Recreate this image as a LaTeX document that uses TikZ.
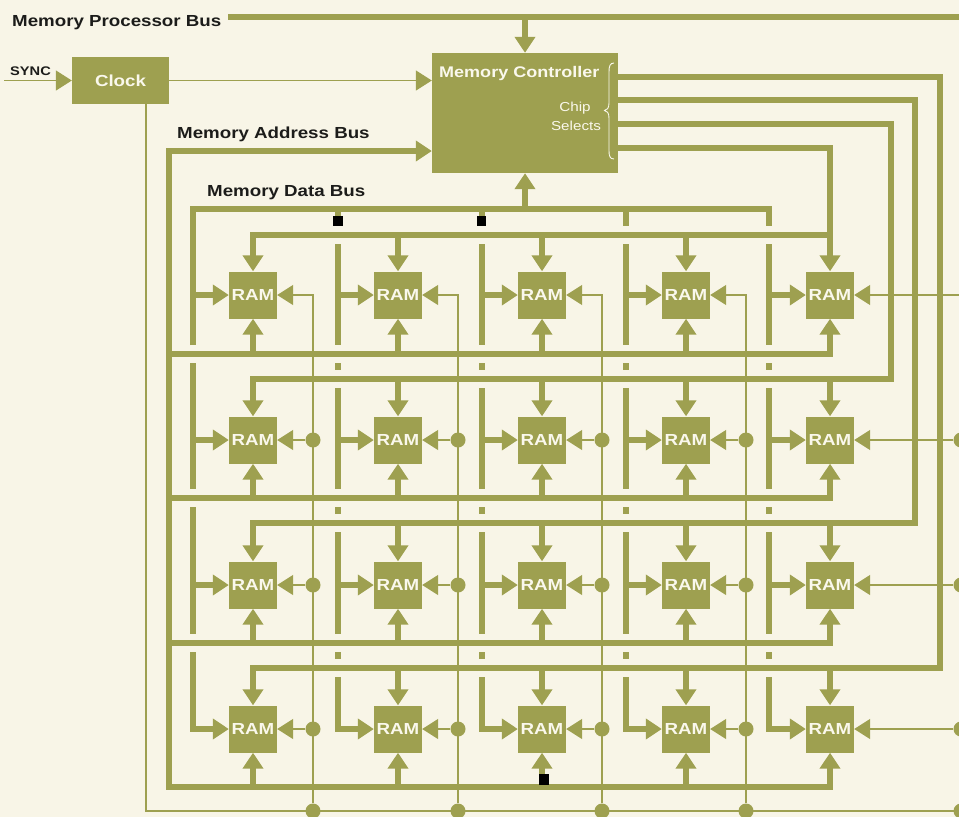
\documentclass[tikz,border=0pt]{standalone}
\usepackage{fontspec}
\newfontfamily\labfont[FakeStretch=1.17]{Liberation Sans}
\usetikzlibrary{arrows.meta}
\definecolor{busgreen}{RGB}{158,160,80}
\definecolor{paper}{RGB}{248,245,231}
\definecolor{ink}{RGB}{28,28,26}
\definecolor{wtext}{RGB}{250,248,236}
\begin{document}
\begin{tikzpicture}[x=1pt,y=-1pt,
  bus/.style={draw=busgreen,line width=6.5pt},
  thinline/.style={draw=busgreen,line width=1.4pt},
  tip/.style={-{Triangle[length=16pt,width=20pt]}},
  tips/.style={{Triangle[length=16pt,width=20pt]}-{Triangle[length=16pt,width=20pt]}},
  box/.style={fill=busgreen,inner sep=0pt,text=wtext,font=\labfont\bfseries\fontsize{16}{16}\selectfont},
  ram/.style={box,minimum width=48pt,minimum height=47pt},
  lab/.style={text=ink,font=\labfont\bfseries\fontsize{16}{16}\selectfont,inner sep=0pt,anchor=base west},
  wlab/.style={text=wtext,font=\labfont\bfseries\fontsize{15.4}{15.4}\selectfont,inner sep=0pt,anchor=base west},
  slab/.style={text=wtext,font=\labfont\fontsize{13}{13}\selectfont,inner sep=0pt,anchor=base},
  dot/.style={circle,fill=busgreen,minimum size=15pt,inner sep=0pt},
]
\useasboundingbox (0,0) rectangle (959,817);
\fill[paper] (0,0) rectangle (959,817);
\clip (0,0) rectangle (959,817);

% ---------- blocks ----------
\node[box,minimum width=186pt,minimum height=120pt] (mc) at (525,113) {};
\node[box,minimum width=97pt,minimum height=47pt] (clk) at (120.5,80.5) {Clock};
\foreach \rr/\yy in {1/295,2/440,3/585,4/729}
  \foreach \cc/\xx in {1/253,2/398,3/542,4/686,5/830}
    \node[ram] (r\rr c\cc) at (\xx,\yy) {RAM};

% ---------- labels ----------
\node[lab] (mpbl) at (12,26) {Memory Processor Bus};
\node[lab] (mabl) at (177,138) {Memory Address Bus};
\node[lab] (mdbl) at (207,196) {Memory Data Bus};
\node[lab,font=\labfont\bfseries\fontsize{12.5}{12.5}\selectfont] (syncl) at (10,75) {SYNC};
\node[wlab] (mcl) at (439,77) {Memory Controller};
\node[slab] (chipl) at (575,111) {Chip};
\node[slab] (sell) at (576,130) {Selects};
\draw[wtext,line width=0.9pt] (614,63) .. controls (610,63) and (609,66) .. (609,72) -- (609,103)
  .. controls (609,108) and (607,110.5) .. (604.5,110.5) .. controls (607,110.5) and (609,113) .. (609,118)
  -- (609,151) .. controls (609,156) and (610,159) .. (614,159);

% ---------- memory processor bus ----------
\coordinate (mpbA) at (228,17);
\coordinate (mpbB) at (965,17);
\coordinate (mpbJ) at (525,17);
\draw[bus,line width=5.5pt] (mpbA) -- (mpbB);
\draw[bus,tip] (mpbJ) -- (mc.north);

% ---------- sync and clock ----------
\coordinate (syncs) at (4,80.5);
\draw[thinline,tip] (syncs) -- (clk.west);
\draw[thinline,tip] (clk.east) -- (clk.east -| mc.west);
\coordinate (ckb) at (146,811);
\coordinate (botR) at (965,811);
\draw[thinline] (ckb |- clk.south) -- (ckb) -- (botR);

% ---------- memory address bus ----------
\coordinate (adTop) at (169,151);
\coordinate (adBot) at (169,787);
\draw[bus,tips] (mc.west |- adTop) -- (adTop) -- (adBot) -- (adBot -| r4c5.south) -- (r4c5.south);
\foreach \rr/\ad in {1/354,2/498,3/643}
  \draw[bus,tip] (169,\ad) -- (830,\ad) -- (r\rr c5.south);
\foreach \rr/\ad in {1/354,2/498,3/643,4/787}
  \foreach \cc/\xx in {1/253,2/398,3/542,4/686}
    \draw[bus,tip] (\xx,\ad) -- (r\rr c\cc.south);

% ---------- chip selects ----------
\coordinate (cs1) at (830,148);
\draw[bus,tip] (mc.east |- cs1) -- (cs1) -- (r1c5.north);
\draw[bus,tip] (830,235) -- (253,235) -- (r1c1.north);
\foreach \rr/\sy/\vx/\cs in {2/124/891/379,3/100/915/523,4/77/940/668}{
  \coordinate (cs\rr) at (\vx,\sy);
  \draw[bus,tip] (mc.east |- cs\rr) -- (cs\rr) -- (\vx,\cs) -- (253,\cs) -- (r\rr c1.north);
  \draw[bus,tip] (830,\cs) -- (r\rr c5.north);
}
\foreach \rr/\cs in {1/235,2/379,3/523,4/668}
  \foreach \cc/\xx in {2/398,3/542,4/686}
    \draw[bus,tip] (\xx,\cs) -- (r\rr c\cc.north);

% ---------- memory data bus ----------
\coordinate (dbj) at (525,209);
\draw[bus,tip] (dbj) -- (mc.south);
\draw[bus] (193,345) -- (193,209) -- (769,209) -- (769,226);
\foreach \xx in {338,482,626}
  \draw[bus] (\xx,209) -- (\xx,226);
\draw[bus] (193,363) -- (193,489);
\draw[bus] (193,507) -- (193,634);
\draw[bus,tip] (193,652) -- (193,729) -- (r4c1.west);
\foreach \cc/\xx in {2/338,3/482,4/626,5/769}{
  \draw[bus] (\xx,244) -- (\xx,345);
  \draw[bus] (\xx,363) -- (\xx,370);
  \draw[bus] (\xx,388) -- (\xx,489);
  \draw[bus] (\xx,507) -- (\xx,514);
  \draw[bus] (\xx,532) -- (\xx,634);
  \draw[bus] (\xx,652) -- (\xx,659);
  \draw[bus,tip] (\xx,677) -- (\xx,729) -- (r4c\cc.west);
}
\foreach \rr/\yy in {1/295,2/440,3/585}
  \foreach \cc/\xx in {1/193,2/338,3/482,4/626,5/769}
    \draw[bus,tip] (\xx,\yy) -- (r\rr c\cc.west);

% ---------- enable lines ----------
\foreach \cc/\tx in {1/313,2/458,3/602,4/746,5/961}{
  \node[dot] (b\cc) at (\tx,811) {};
  \draw[thinline,tip] (b\cc) -- (\tx,295) -- (r1c\cc.east);
  \foreach \rr/\yy in {2/440,3/585,4/729}{
    \node[dot] (d\rr c\cc) at (\tx,\yy) {};
    \draw[thinline,tip] (d\rr c\cc) -- (r\rr c\cc.east);
  }
}

% ---------- marks ----------
\fill[black] (333,216) rectangle (343,226);
\fill[black] (477,216) rectangle (486,226);
\fill[black] (539,774) rectangle (549,785);
\end{tikzpicture}
\end{document}
